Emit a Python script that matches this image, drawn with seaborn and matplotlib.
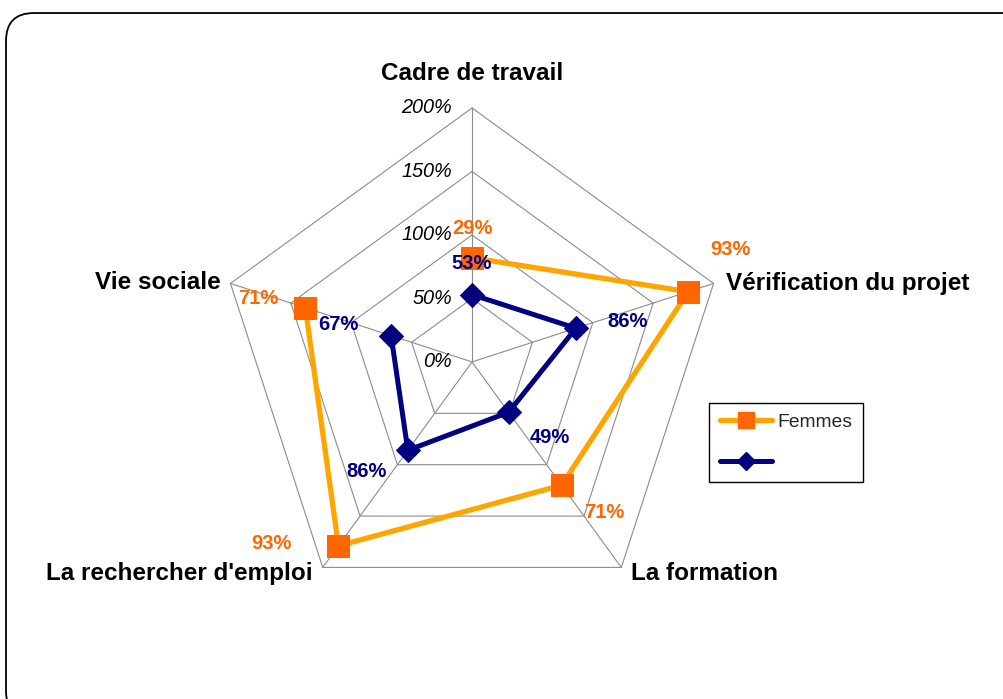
import numpy as np
import pandas as pd
import seaborn as sns
import matplotlib.pyplot as plt
from matplotlib.lines import Line2D
from matplotlib.patches import FancyBboxPatch

# radar data (stacked: Femmes is drawn on top of the first series)
categories = ["Cadre de travail", "Vérification du projet", "La formation",
              "La rechercher d'emploi", "Vie sociale"]
base_vals = [53, 86, 49, 86, 67]
femmes_vals = [29, 93, 71, 93, 71]
ring_levels = [0, 50, 100, 150, 200]
ring_labels = ["0%", "50%", "100%", "150%", "200%"]

sns.set_style("white")
plt.rcParams['font.family'] = ['Liberation Sans', 'DejaVu Sans']

ORANGE_LINE = "#FFA500"
ORANGE_MARK = "#FF6600"
NAVY = "#000080"
GRID = "#8C8C8C"

n = len(categories)
angles = np.deg2rad(90 - 72 * np.arange(n))

def to_xy(vals):
    vals = np.asarray(vals, dtype=float)
    return vals * np.cos(angles), vals * np.sin(angles)

stacked = np.array(base_vals) + np.array(femmes_vals)

rows = []
for name, vals in [("base", base_vals), ("Femmes", stacked)]:
    x, y = to_xy(vals)
    for i in list(range(n)) + [0]:
        rows.append({"serie": name, "x": x[i], "y": y[i]})
df = pd.DataFrame(rows)

fig = plt.figure(figsize=(10.04, 6.99), dpi=100)
ax = fig.add_axes([0, 0, 1, 1])
ax.set_xlim(-371.7, 418.9)
ax.set_ylim(-265.4, 285.0)
ax.set_aspect("equal")
ax.axis("off")

# rounded outer frame (runs off the right and bottom edges)
px = 100 / 127.0
frame = FancyBboxPatch((-371.7 + 6 * px, -265.4 - 20 * px), 1040 * px, (699 - 13 + 20) * px,
                       boxstyle="round,pad=0,rounding_size=22", fc="none", ec="black",
                       lw=1.3, clip_on=False, zorder=0)
ax.add_patch(frame)

# polygon grid + spokes
for lvl in ring_levels[1:]:
    gx, gy = to_xy([lvl] * n)
    ax.plot(np.append(gx, gx[0]), np.append(gy, gy[0]), color=GRID, lw=0.8, zorder=1)
ox, oy = to_xy([ring_levels[-1]] * n)
for i in range(n):
    ax.plot([0, ox[i]], [0, oy[i]], color=GRID, lw=0.8, zorder=1)

for lvl, lab in zip(ring_levels, ring_labels):
    ax.text(-20 * px, lvl, lab, ha="right", va="center", fontsize=14.3,
            style="italic", color="black", zorder=2)

# series
sns.lineplot(data=df[df.serie == "Femmes"], x="x", y="y", sort=False, ax=ax,
             color=ORANGE_LINE, lw=3.8, marker="s", markersize=16,
             markerfacecolor=ORANGE_MARK, markeredgecolor=ORANGE_MARK, zorder=3)
sns.lineplot(data=df[df.serie == "base"], x="x", y="y", sort=False, ax=ax,
             color=NAVY, lw=3.6, marker="D", markersize=12,
             markerfacecolor=NAVY, markeredgecolor=NAVY, zorder=4)

# data labels (offsets in pixels)
orange_off = [(0, 29), (42, 42), (43, -27), (-67, 2), (-47, 9)]
navy_off = [(0, 31), (52, 7), (41, -25), (-41, -21), (-53, 11)]
sx, sy = to_xy(stacked)
bx, by = to_xy(base_vals)
for i in range(n):
    ax.annotate(f"{femmes_vals[i]}%", (sx[i], sy[i]), xytext=orange_off[i],
                textcoords="offset pixels", ha="center", va="center",
                fontsize=14.5, fontweight="bold", color=ORANGE_MARK, zorder=5)
    ax.annotate(f"{base_vals[i]}%", (bx[i], by[i]), xytext=navy_off[i],
                textcoords="offset pixels", ha="center", va="center",
                fontsize=14.5, fontweight="bold", color=NAVY, zorder=5)

# category labels
lx, ly = to_xy([200] * n)
cat_off = [(0, 34, "center"), (12, 0, "left"), (10, -6, "left"),
           (-10, -6, "right"), (-10, 1, "right")]
for i, cat in enumerate(categories):
    dx, dy, ha = cat_off[i]
    ax.annotate(cat, (lx[i], ly[i]), xytext=(dx, dy), textcoords="offset pixels",
                ha=ha, va="center", fontsize=17.5, fontweight="bold", color="black")

handles = [
    Line2D([], [], color=ORANGE_LINE, lw=3.8, marker="s", markersize=11,
           markerfacecolor=ORANGE_MARK, markeredgecolor=ORANGE_MARK),
    Line2D([], [], color=NAVY, lw=3.6, marker="D", markersize=9,
           markerfacecolor=NAVY, markeredgecolor=NAVY),
]
leg = ax.legend(handles, ["Femmes", ""], loc="upper left",
                bbox_to_anchor=(709 / 1004, 1 - 403 / 699), bbox_transform=fig.transFigure,
                borderaxespad=0, fontsize=13.9, frameon=True, fancybox=False,
                edgecolor="black", framealpha=1, handlelength=2.7, handletextpad=0.3,
                labelspacing=1.2, borderpad=0.55)
leg.get_frame().set_linewidth(1.0)

fig.savefig("out.png", dpi=100)
